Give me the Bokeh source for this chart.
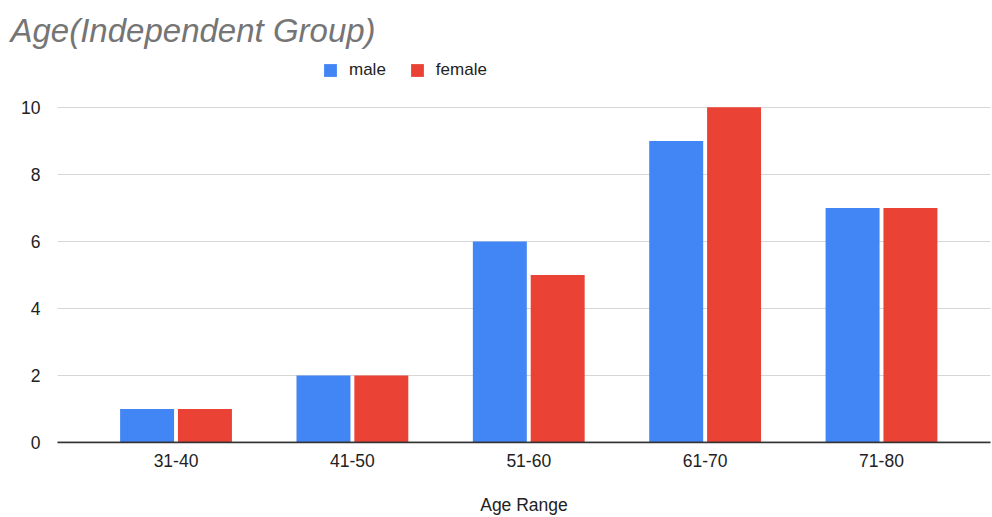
from bokeh.plotting import figure
from bokeh.models import Legend, LegendItem, Span, FixedTicker
from bokeh.embed import file_html
from bokeh.resources import INLINE

# Age ranges and counts per gender
age_ranges = ["31-40", "41-50", "51-60", "61-70", "71-80"]
male = [1, 2, 6, 9, 7]
female = [1, 2, 5, 10, 7]
y_ticks = [0, 2, 4, 6, 8, 10]

BLUE = "#4285F4"
RED = "#EA4335"
FONT = "Liberation Sans"

xs = list(range(len(age_ranges)))
bar_w = 0.306
off = 0.164

# frame spans from just under the title down to the baseline; the top part
# above the 10 gridline holds the legend
FRAME_TOP, FRAME_BOTTOM = 55, 443
frame_h = FRAME_BOTTOM - FRAME_TOP
px_per_unit = (443 - 107) / 10.0
y_end = frame_h / px_per_unit

p = figure(width=992, height=517, output_backend="svg", toolbar_location=None,
           x_range=(-0.672, 4.618), y_range=(0, y_end),
           min_border_left=57, min_border_right=2, min_border_top=FRAME_TOP,
           min_border_bottom=517 - FRAME_BOTTOM)
p.outline_line_color = None
p.background_fill_color = "white"
p.border_fill_color = "white"

p.title.text = "Age(Independent Group)"
p.title.text_font = FONT
p.title.text_font_size = "33px"
p.title.text_font_style = "italic"
p.title.text_color = "#757575"
p.title.align = "left"
p.title.offset = -47
p.title.standoff = 14

r_m = p.vbar(x=[x - off for x in xs], top=male, width=bar_w, bottom=0,
             fill_color=BLUE, line_color=None)
r_f = p.vbar(x=[x + off for x in xs], top=female, width=bar_w, bottom=0,
             fill_color=RED, line_color=None)

# legend sits inside the frame, above the top gridline (location = bottom-left)
legend = Legend(items=[LegendItem(label="male", renderers=[r_m]),
                       LegendItem(label="female", renderers=[r_f])],
                orientation="horizontal", location=(265, FRAME_BOTTOM - 81),
                border_line_color=None, background_fill_alpha=0,
                glyph_width=16, glyph_height=16, label_standoff=11,
                spacing=23, padding=0, margin=0,
                label_text_font=FONT, label_text_font_size="17px",
                label_text_color="#222222")
p.add_layout(legend, "center")

# axes
p.xaxis.ticker = FixedTicker(ticks=xs)
p.xaxis.major_label_overrides = {i: lab for i, lab in enumerate(age_ranges)}
p.xaxis.axis_label = "Age Range"
p.xaxis.axis_label_text_font = FONT
p.xaxis.axis_label_text_font_size = "17.5px"
p.xaxis.axis_label_text_font_style = "normal"
p.xaxis.axis_label_text_color = "#222222"
p.xaxis.axis_label_standoff = 25
p.xaxis.major_label_text_font = FONT
p.xaxis.major_label_text_font_size = "17.5px"
p.xaxis.major_label_text_color = "#222222"
p.xaxis.major_label_standoff = 5
p.xaxis.major_tick_line_color = None
p.xaxis.minor_tick_line_color = None
p.xaxis.axis_line_color = "#333333"
p.xaxis.axis_line_width = 1.5

p.yaxis.ticker = FixedTicker(ticks=y_ticks)
p.yaxis.major_label_text_font = FONT
p.yaxis.major_label_text_font_size = "17.5px"
p.yaxis.major_label_text_color = "#222222"
p.yaxis.major_label_standoff = 11
p.yaxis.major_tick_line_color = None
p.yaxis.minor_tick_line_color = None
p.yaxis.axis_line_color = None

p.xgrid.grid_line_color = None
p.ygrid.grid_line_color = "#d6d6d6"
p.ygrid.grid_line_width = 1.2
p.ygrid.ticker = FixedTicker(ticks=y_ticks)

p.add_layout(Span(location=0, dimension="width", line_color="#333333", line_width=1.5))

open("out.html", "w").write(file_html(p, INLINE))
